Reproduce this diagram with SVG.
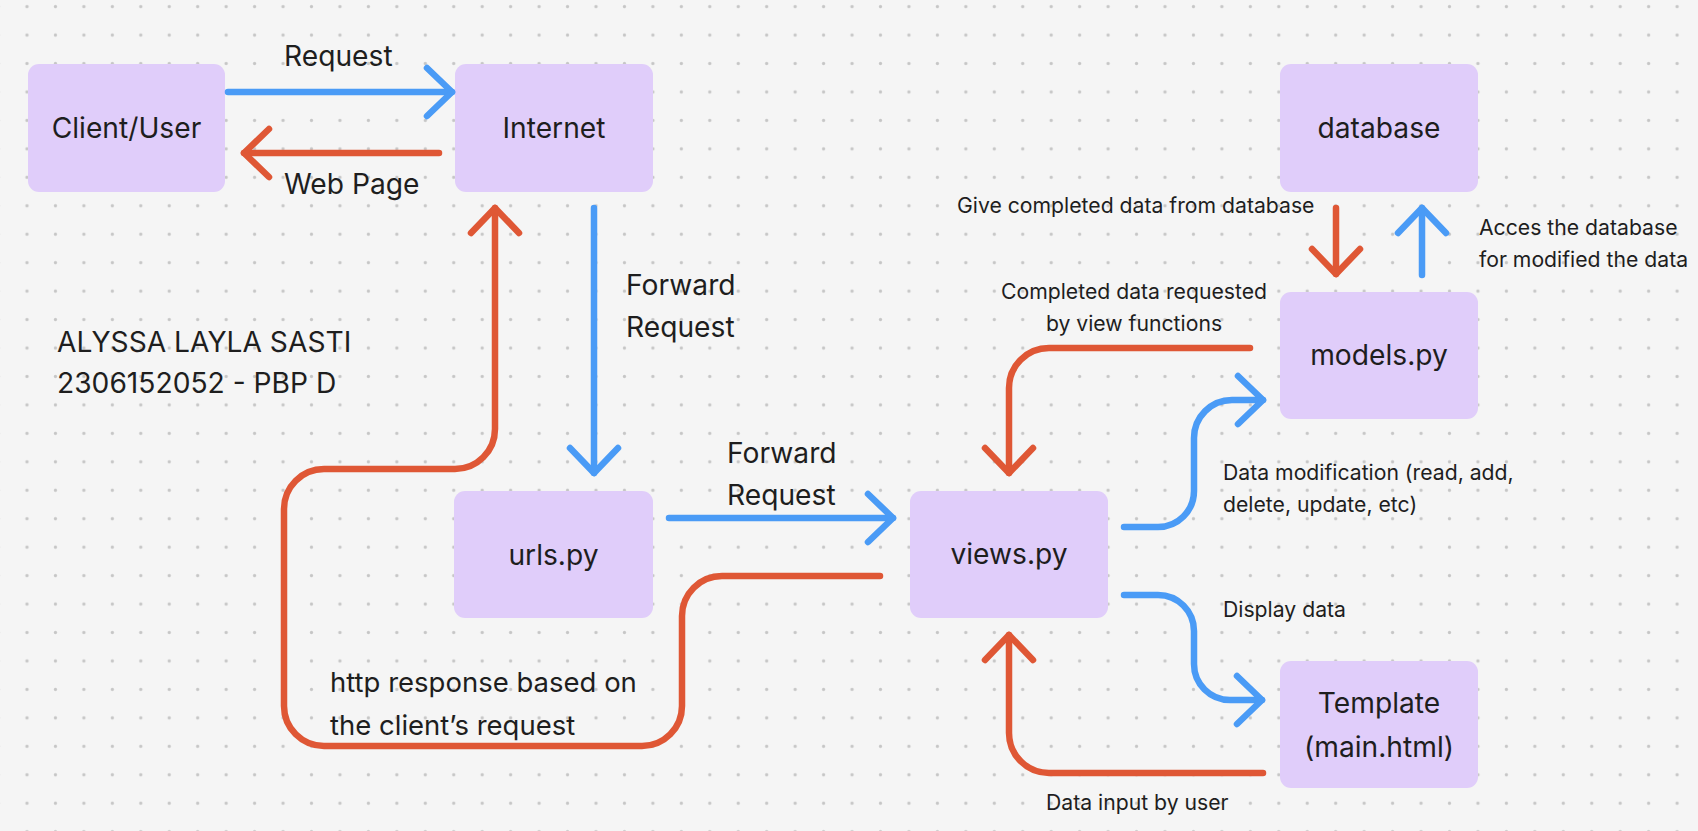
<svg xmlns="http://www.w3.org/2000/svg" width="1698" height="831" viewBox="0 0 1698 831">
<style>
.bg{fill:#f5f5f5}
.box{fill:#e0cdfa}
.t{font-family:Inter,"Liberation Sans",sans-serif;fill:#1e1e1e}
.big{font-size:28.2px}
.lbl{font-size:28.2px}
.resp{font-size:27.5px}
.sm{font-size:21.2px}
.mid{text-anchor:middle}
.blue{fill:none;stroke:#4a9bf6;stroke-width:6.5;stroke-linecap:round;stroke-linejoin:round}
.red{fill:none;stroke:#df5735;stroke-width:6.5;stroke-linecap:round;stroke-linejoin:round}
</style>
<defs>
<pattern id="dots" x="12.78" y="-7.6" width="28.45" height="28.45" patternUnits="userSpaceOnUse">
<circle cx="14.225" cy="14.225" r="1.6" fill="#c6c6c6"/>
</pattern>
<marker id="ab" markerUnits="userSpaceOnUse" viewBox="-32 -32 64 64" markerWidth="64" markerHeight="64" refX="0" refY="0" orient="auto">
<path d="M-25,-24 L0,0 L-25,24" fill="none" stroke="#4a9bf6" stroke-width="6.5" stroke-linecap="round" stroke-linejoin="round"/>
</marker>
<marker id="ar" markerUnits="userSpaceOnUse" viewBox="-32 -32 64 64" markerWidth="64" markerHeight="64" refX="0" refY="0" orient="auto">
<path d="M-25,-24 L0,0 L-25,24" fill="none" stroke="#df5735" stroke-width="6.5" stroke-linecap="round" stroke-linejoin="round"/>
</marker>
</defs>
<rect class="bg" x="0" y="0" width="1698" height="831"/>
<rect x="0" y="0" width="1698" height="831" fill="url(#dots)"/>

<g id="client"><rect class="box" x="28" y="64" width="197" height="128" rx="11"/><text class="t big mid" x="126.5" y="138">Client/User</text></g>
<g id="internet"><rect class="box" x="455" y="64" width="198" height="128" rx="11"/><text class="t big mid" x="554" y="138">Internet</text></g>
<g id="database"><rect class="box" x="1280" y="64" width="198" height="128" rx="11"/><text class="t big mid" x="1379" y="138">database</text></g>
<g id="models"><rect class="box" x="1280" y="292" width="198" height="127" rx="11"/><text class="t big mid" x="1379" y="365">models.py</text></g>
<g id="urls"><rect class="box" x="454" y="491" width="199" height="127" rx="11"/><text class="t big mid" x="553.5" y="565">urls.py</text></g>
<g id="views"><rect class="box" x="910" y="491" width="198" height="127" rx="11"/><text class="t big mid" x="1009" y="564">views.py</text></g>
<g id="template"><rect class="box" x="1280" y="661" width="198" height="127" rx="11"/><text class="t big mid" x="1379" y="713">Template</text><text class="t big mid" x="1379" y="757">(main.html)</text></g>

<g id="connectors">
<path class="blue" d="M228,92 H452" marker-end="url(#ab)"/>
<path class="red" d="M439,153 H244" marker-end="url(#ar)"/>
<path class="blue" d="M594,208 V473" marker-end="url(#ab)"/>
<path class="blue" d="M669,518 H893" marker-end="url(#ab)"/>
<path class="red" d="M880,576 H722 A40,40 0 0 0 682,616 V706 A40,40 0 0 1 642,746 H324 A40,40 0 0 1 284,706 V509 A40,40 0 0 1 324,469 H455 A40,40 0 0 0 495,429 V208" marker-end="url(#ar)"/>
<path class="red" d="M1250,348 H1049 A40,40 0 0 0 1009,388 V473" marker-end="url(#ar)"/>
<path class="blue" d="M1124,527 H1158 A36,36 0 0 0 1194,491 V438 A38,38 0 0 1 1232,400 H1263" marker-end="url(#ab)"/>
<path class="blue" d="M1124,595 H1158 A36,36 0 0 1 1194,631 V664 A36,36 0 0 0 1230,700 H1262" marker-end="url(#ab)"/>
<path class="red" d="M1263,773 H1049 A40,40 0 0 1 1009,733 V635" marker-end="url(#ar)"/>
<path class="red" d="M1336,208 V274" marker-end="url(#ar)"/>
<path class="blue" d="M1422,275 V208" marker-end="url(#ab)"/>
</g>

<g id="labels">
<text class="t lbl" x="284" y="66">Request</text>
<text class="t lbl" x="284" y="194">Web Page</text>
<text class="t lbl" x="626" y="295">Forward</text>
<text class="t lbl" x="626" y="337">Request</text>
<text class="t lbl" x="727" y="463">Forward</text>
<text class="t lbl" x="727" y="505">Request</text>
<text class="t resp" x="330" y="692">http response based on</text>
<text class="t resp" x="330" y="735">the client’s request</text>
<text class="t lbl" x="57" y="352">ALYSSA LAYLA SASTI</text>
<text class="t lbl" x="57" y="393">2306152052 - PBP D</text>
<text class="t sm" x="957" y="213">Give completed data from database</text>
<text class="t sm" x="1479" y="235">Acces the database</text>
<text class="t sm" x="1479" y="267">for modified the data</text>
<text class="t sm mid" x="1134" y="299">Completed data requested</text>
<text class="t sm mid" x="1134" y="331">by view functions</text>
<text class="t sm" x="1223" y="480">Data modification (read, add,</text>
<text class="t sm" x="1223" y="512">delete, update, etc)</text>
<text class="t sm" x="1223" y="617">Display data</text>
<text class="t sm" x="1046" y="810">Data input by user</text>
</g>
</svg>
